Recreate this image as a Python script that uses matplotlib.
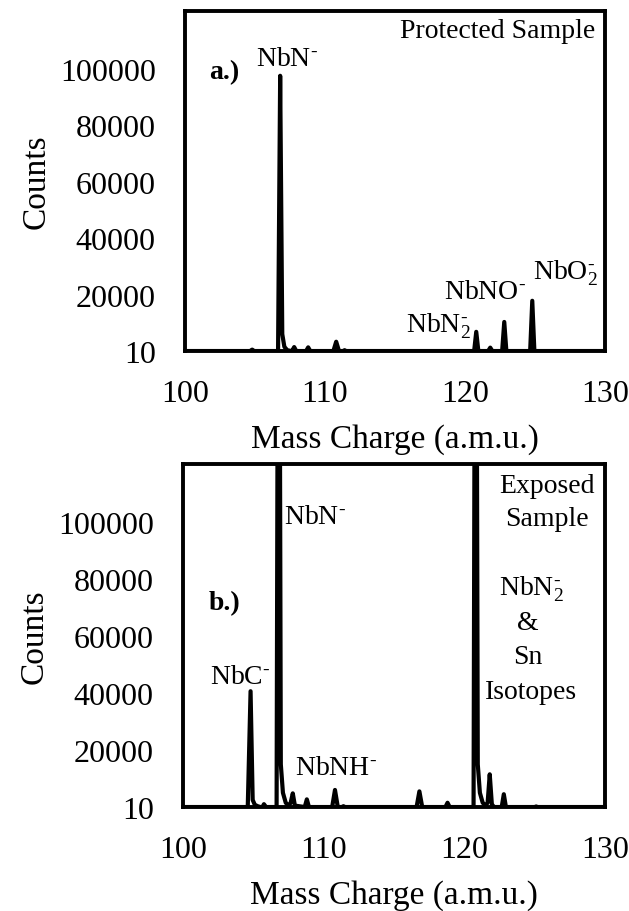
import matplotlib
matplotlib.use("Agg")
import matplotlib.pyplot as plt

plt.rcParams["font.family"] = ["Liberation Serif", "DejaVu Serif"]
plt.rcParams["mathtext.fontset"] = "custom"
plt.rcParams["mathtext.rm"] = "Liberation Serif"
plt.rcParams["mathtext.it"] = "Liberation Serif"

# --- panel a: protected sample ---
mz_a = [100, 104.65, 104.8, 104.95, 106.65, 106.8, 106.95, 107.1, 107.3, 107.6,
        107.65, 107.8, 107.95, 108.65, 108.8, 108.95, 110.6, 110.8, 111.0,
        111.3, 111.4, 111.5, 120.65, 120.8, 120.95, 121.65, 121.8, 121.95,
        122.65, 122.8, 122.95, 124.65, 124.8, 124.95, 130]
counts_a = [0, 0, 500, 0, 0, 97500, 6000, 1500, 300, 0,
            0, 1400, 0, 0, 1300, 0, 0, 3300, 0,
            0, 300, 0, 0, 6800, 0, 0, 1200, 0,
            0, 10300, 0, 0, 17800, 0, 0]

# --- panel b: exposed sample ---
mz_b = [100, 104.6, 104.8, 104.95, 105.1, 105.3, 105.5, 105.65, 105.75, 105.9,
        106.65, 106.8, 106.95, 107.1, 107.3, 107.5, 107.65, 107.8, 107.95,
        108.65, 108.8, 108.95, 110.6, 110.8, 111.0, 111.3, 111.4, 111.5,
        116.6, 116.8, 117.0, 118.65, 118.8, 118.95, 120.65, 120.8, 120.95,
        121.1, 121.3, 121.5, 121.65, 121.8, 121.95, 122.1, 122.65, 122.8,
        122.95, 125.0, 125.1, 125.2, 130]
counts_b = [0, 0, 40700, 2500, 800, 300, 0, 0, 1000, 0,
            0, 300000, 15000, 5000, 1500, 500, 1500, 4800, 500,
            0, 2700, 0, 0, 6000, 0, 0, 300, 0,
            0, 5500, 0, 0, 1500, 0, 0, 300000, 15000,
            5000, 1500, 600, 1500, 11500, 1000, 0, 0, 4500,
            0, 0, 200, 0, 0]

ytick_vals = [10, 20000, 40000, 60000, 80000, 100000]
xtick_vals = [100, 110, 120, 130]

fig = plt.figure(figsize=(6.29, 9.12), dpi=100)
ax_a = fig.add_axes([0.294, 0.614, 0.668, 0.373])
ax_b = fig.add_axes([0.291, 0.114, 0.671, 0.376])

for ax, mz, cnt in [(ax_a, mz_a, counts_a), (ax_b, mz_b, counts_b)]:
    ax.plot(mz, cnt, color="black", lw=3, solid_joinstyle="round",
            solid_capstyle="round", clip_on=True)
    ax.set_xlim(100, 130)
    ax.set_ylim(0, 120500)
    ax.set_xticks(xtick_vals)
    ax.set_yticks(ytick_vals)
    ax.set_yticklabels([str(v) for v in ytick_vals])
    ax.tick_params(axis="both", length=0, labelsize=23)
    ax.tick_params(axis="x", pad=20)
    ax.tick_params(axis="y", pad=21)
    for sp in ax.spines.values():
        sp.set_linewidth(2.8)
    ax.set_ylabel("Counts", fontsize=24, labelpad=6)
    ax.set_xlabel("Mass Charge (a.m.u.)", fontsize=24, labelpad=11)

fs = 20
neg = r"$^{\text{-}}$"
neg2 = r"$_2^{\text{-}}$"
# panel a labels
ax_a.text(129.3, 113500, "Protected Sample", fontsize=fs, ha="right", va="center")
ax_a.text(101.7, 99000, "a.)", fontsize=fs, fontweight="bold", ha="left", va="center")
ax_a.text(107.3, 103500, "NbN" + neg, fontsize=fs, ha="center", va="center")
ax_a.text(127.2, 28000, "NbO" + neg2, fontsize=fs, ha="center", va="center")
ax_a.text(121.4, 21000, "NbNO" + neg, fontsize=fs, ha="center", va="center")
ax_a.text(118.1, 9000, "NbN" + neg2, fontsize=fs, ha="center", va="center")

# panel b labels
ax_b.text(125.9, 113000, "Exposed", fontsize=fs, ha="center", va="center")
ax_b.text(125.9, 101500, "Sample", fontsize=fs, ha="center", va="center")
ax_b.text(101.8, 72000, "b.)", fontsize=fs, fontweight="bold", ha="left", va="center")
ax_b.text(109.4, 102000, "NbN" + neg, fontsize=fs, ha="center", va="center")
ax_b.text(124.8, 77000, "NbN" + neg2, fontsize=fs, ha="center", va="center")
ax_b.text(124.5, 65000, "&", fontsize=fs, ha="center", va="center")
ax_b.text(124.5, 53000, "Sn", fontsize=fs, ha="center", va="center")
ax_b.text(124.7, 40500, "Isotopes", fontsize=fs, ha="center", va="center")
ax_b.text(104.05, 46000, "NbC" + neg, fontsize=fs, ha="center", va="center")
ax_b.text(110.9, 14000, "NbNH" + neg, fontsize=fs, ha="center", va="center")

fig.savefig("out.png", dpi=100)
